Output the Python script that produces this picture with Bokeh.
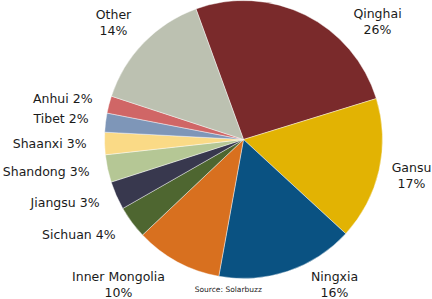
import math
from bokeh.plotting import figure
from bokeh.models import Range1d, ColumnDataSource
from bokeh.core.properties import value
from bokeh.embed import file_html
from bokeh.resources import INLINE

# Data (share of installations, %)
provinces = ["Qinghai", "Gansu", "Ningxia", "Inner Mongolia", "Sichuan", "Jiangsu",
             "Shandong", "Shaanxi", "Tibet", "Anhui", "Other"]
shares = [25.8, 16.6, 16.0, 10.1, 3.8, 3.3, 3.2, 2.6, 2.2, 2.0, 14.4]
labels = ["26%", "17%", "16%", "10%", "4%", "3%", "3%", "3%", "2%", "2%", "14%"]
colors = ["#7A2A2B", "#E2B303", "#0A5282", "#D8701F", "#4E6630", "#38384E",
          "#B5C795", "#FADA86", "#7E96B8", "#D06666", "#BCC1B1"]

W, H = 432, 299
CX, CY, R = 243, H - 139, 139
START = -20.0  # compass degrees (clockwise from top)

total = sum(shares)
starts, ends = [], []
acc = START
for s in shares:
    a0 = acc
    a1 = acc + s / total * 360.0
    acc = a1
    # convert clockwise compass to counter-clockwise math angles
    starts.append(math.radians(90 - a1))
    ends.append(math.radians(90 - a0))

src = ColumnDataSource(dict(name=provinces, start=starts, end=ends, color=colors))

p = figure(width=W, height=H, output_backend="svg", toolbar_location=None,
           x_range=Range1d(0, W), y_range=Range1d(0, H), min_border=0)
p.axis.visible = False
p.grid.visible = False
p.outline_line_color = None
p.background_fill_color = "white"
p.border_fill_color = "white"

p.wedge(x=CX, y=CY, radius=R, start_angle="start", end_angle="end",
        fill_color="color", line_color="white", line_width=0.6, line_alpha=0.7,
        source=src)

# label layout (pixel positions from top-left): two-line labels
two_line = {"Qinghai": (377, 13), "Gansu": (411, 167), "Ningxia": (334, 276),
            "Inner Mongolia": (118, 276), "Other": (113, 14)}
one_line = {"Anhui": (96, 98), "Tibet": (92, 118), "Shaanxi": (90, 143),
            "Shandong": (93, 171), "Jiangsu": (103, 202), "Sichuan": (119, 234)}

font = value("DejaVu Sans")
tx, ty, tt = [], [], []
for name, lab in zip(provinces, labels):
    if name in two_line:
        x, y = two_line[name]
        tx += [x, x]
        ty += [H - y, H - y - 16]
        tt += [name, lab]
p.text(x=tx, y=ty, text=tt, text_font=font, text_font_size="12.5px",
       text_align="center", text_baseline="middle", text_color="#1a1a1a")

rx, ry, rt = [], [], []
for name, lab in zip(provinces, labels):
    if name in one_line:
        x, y = one_line[name]
        rx.append(x)
        ry.append(H - y)
        rt.append(f"{name}  {lab}")
p.text(x=rx, y=ry, text=rt, text_font=font, text_font_size="12.5px",
       text_align="right", text_baseline="middle", text_color="#1a1a1a")

p.text(x=[229], y=[H - 289], text=["Source:  Solarbuzz"], text_font=font,
       text_font_size="7.5px", text_align="center", text_baseline="middle",
       text_color="#1a1a1a")

open("out.html", "w").write(file_html(p, INLINE))
